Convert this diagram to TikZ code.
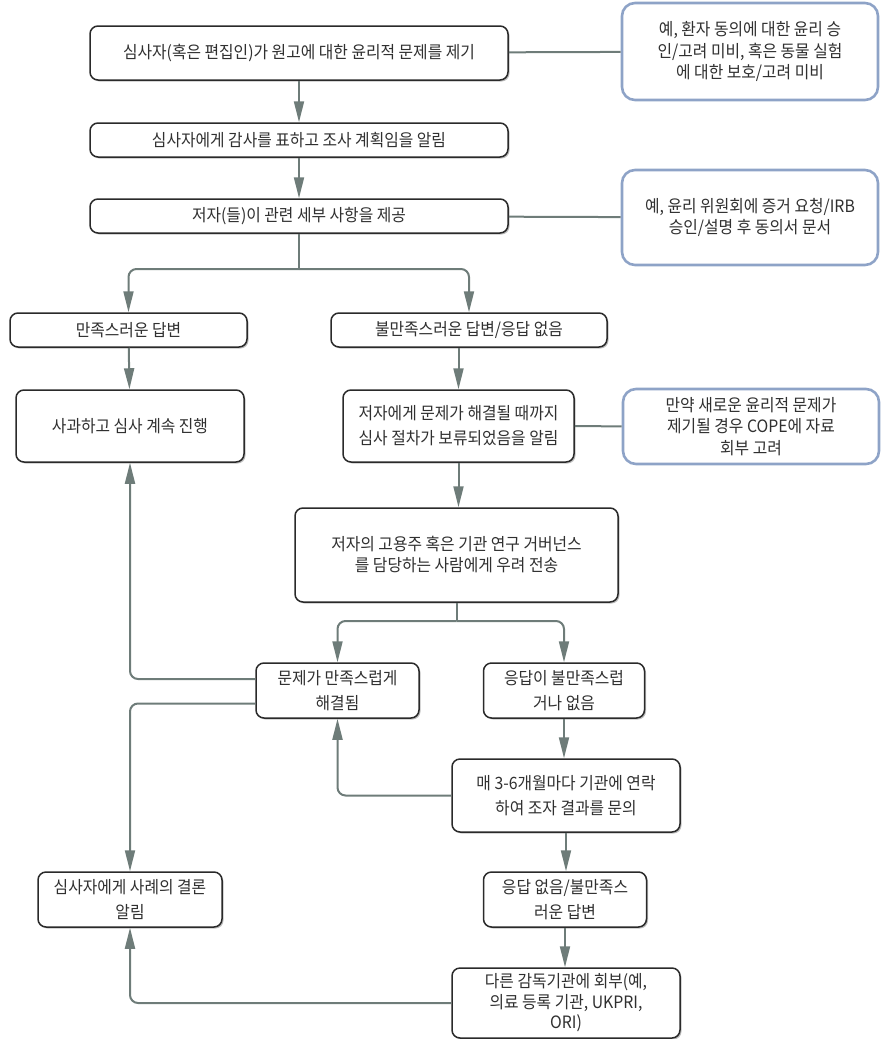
\documentclass[tikz,border=0pt]{standalone}
\usepackage{fontspec}
\setmainfont[FakeStretch=0.93]{Noto Sans CJK KR}
\usetikzlibrary{arrows.meta,shadows,positioning}

\definecolor{bordoscuro}{HTML}{2A2A2A}
\definecolor{bordoblu}{HTML}{8EA3C7}
\definecolor{grigioverde}{HTML}{6E7C79}
\definecolor{testo}{HTML}{303030}

\begin{document}
\begin{tikzpicture}[x=1pt, y=-1pt, >={Triangle[length=21pt,width=10pt]},
		passo/.style={draw=bordoscuro, line width=1.5pt, fill=white, rounded corners=8pt,
			align=center, text=testo, inner sep=2pt, font=\fontsize{17}{21}\selectfont,
			drop shadow={shadow xshift=1.5pt, shadow yshift=-1.5pt, fill=black!50}},
		largo/.style={font=\fontsize{17}{25}\selectfont},
		nota/.style={draw=bordoblu, line width=2.6pt, fill=white, rounded corners=13pt,
			align=center, text=testo, inner sep=2pt, font=\fontsize{17}{21.5}\selectfont,
			minimum width=256pt},
		freccia/.style={->, draw=grigioverde, line width=2pt, rounded corners=8pt},
		linea/.style={draw=grigioverde, line width=2pt}]
	
	\useasboundingbox (0,0) rectangle (881,1039);
	
	% --- Colonna principale ---
	\node[passo, minimum width=418pt, minimum height=54pt] (rileva) at (299,53)
		{심사자(혹은 편집인)가 원고에 대한 윤리적 문제를 제기};
	\node[passo, minimum width=418pt, minimum height=34pt] (ringrazia) at (299,140)
		{심사자에게 감사를 표하고 조사 계획임을 알림};
	\node[passo, minimum width=418pt, minimum height=34pt] (dettagli) at (299,216)
		{저자(들)이 관련 세부 사항을 제공};
	
	% --- Note laterali ---
	\node[nota, minimum height=97pt] (nota1) at (750,51.5)
		{예, 환자 동의에 대한 윤리 승\\인/고려 미비, 혹은 동물 실험\\에 대한 보호/고려 미비};
	\node[nota, minimum height=95pt] (nota2) at (750,217.5)
		{예, 윤리 위원회에 증거 요청/IRB\\승인/설명 후 동의서 문서};
	\node[nota, minimum height=75pt] (nota3) at (751,426.5)
		{만약 새로운 윤리적 문제가\\제기될 경우 COPE에 자료\\회부 고려};
	
	% --- Risposte ---
	\node[passo, minimum width=237pt, minimum height=34pt] (soddisf) at (128.5,330)
		{만족스러운 답변};
	\node[passo, minimum width=276pt, minimum height=34pt] (insoddisf) at (469,330)
		{불만족스러운 답변/응답 없음};
	\node[passo, minimum width=228pt, minimum height=72pt] (scuse) at (130,426)
		{사과하고 심사 계속 진행};
	\node[passo, largo, minimum width=231pt, minimum height=72pt] (sospeso) at (458.5,426)
		{저자에게 문제가 해결될 때까지\\심사 절차가 보류되었음을 알림};
	\node[passo, minimum width=323pt, minimum height=94pt] (governance) at (456.5,555)
		{저자의 고용주 혹은 기관 연구 거버넌스\\를 담당하는 사람에게 우려 전송};
	
	% --- Esiti ---
	\node[passo, largo, minimum width=163pt, minimum height=55pt] (risolto) at (337.5,690.5)
		{문제가 만족스럽게\\해결됨};
	\node[passo, largo, minimum width=161pt, minimum height=55pt] (nonrisolto) at (564,690.5)
		{응답이 불만족스럽\\거나 없음};
	\node[passo, largo, minimum width=228pt, minimum height=73pt] (contatto) at (566,795.5)
		{매 3-6개월마다 기관에 연락\\하여 조자 결과를 문의};
	\node[passo, largo, minimum width=184pt, minimum height=55pt] (esito) at (130,899.5)
		{심사자에게 사례의 결론\\알림};
	\node[passo, largo, minimum width=163pt, minimum height=55pt] (silenzio) at (565,899.5)
		{응답 없음/불만족스\\러운 답변};
	\node[passo, font=\fontsize{17}{20.5}\selectfont, minimum width=228pt, minimum height=70pt] (altro) at (566,1003)
		{다른 감독기관에 회부(예,\\의료 등록 기관, UKPRI,\\ORI)};
	
	% --- Collegamenti ---
	\coordinate (bivio1) at (299,269);
	\coordinate (bivio2) at (456.5,621);
	
	\draw[freccia] (rileva) -- (ringrazia);
	\draw[freccia] (ringrazia) -- (dettagli);
	\draw[linea] (rileva) -- (nota1);
	\draw[linea] (dettagli) -- (nota2);
	\draw[linea] (dettagli.south) -- (bivio1);
	\draw[freccia] (bivio1) -| (soddisf.north);
	\draw[freccia] (bivio1) -| (insoddisf.north);
	\draw[freccia] (soddisf) -- (scuse);
	\draw[freccia] (sospeso.north |- insoddisf.south) -- (sospeso.north);
	\draw[linea] (sospeso) -- (nota3);
	\draw[freccia] (sospeso.south) -- (sospeso.south |- governance.north);
	\draw[linea] (governance.south) -- (bivio2);
	\draw[freccia] (bivio2) -| (risolto.north);
	\draw[freccia] (bivio2) -| (nonrisolto.north);
	\draw[freccia] ([yshift=11.5pt]risolto.west) -| (scuse.south);
	\draw[freccia] ([yshift=-13pt]risolto.west) -| (esito.north);
	\draw[freccia] (nonrisolto.south) -- (nonrisolto.south |- contatto.north);
	\draw[freccia] (contatto.west) -| (risolto.south);
	\draw[freccia] (contatto.south) -- (contatto.south |- silenzio.north);
	\draw[freccia] (silenzio) -- (silenzio.south |- altro.north);
	\draw[freccia] (altro.west) -| (esito.south);
\end{tikzpicture}
\end{document}
